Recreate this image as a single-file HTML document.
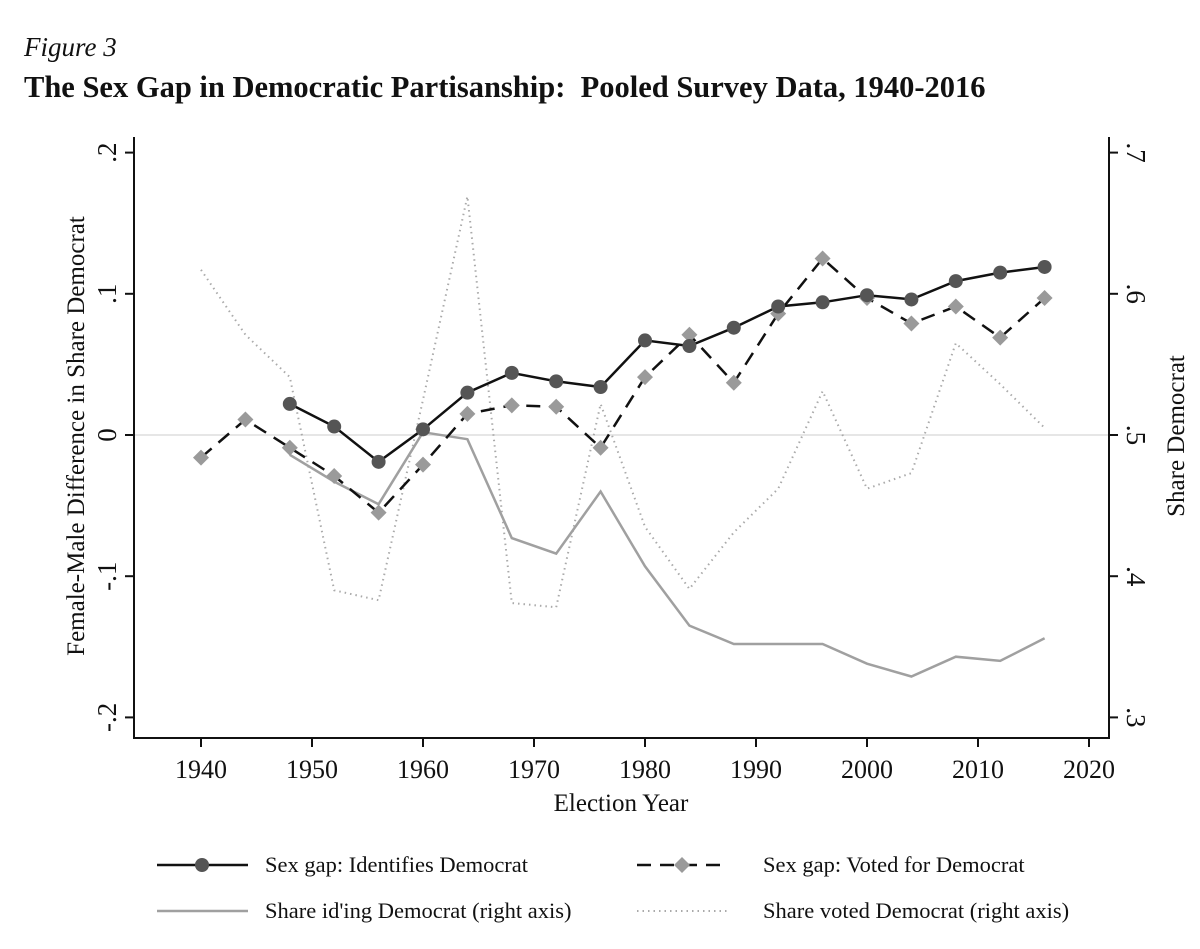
<!DOCTYPE html>
<html><head><meta charset="utf-8"><style>
body{margin:0;background:#fff;}
svg text{font-family:"Liberation Serif",serif;fill:#111;}
</style></head><body>
<svg width="1200" height="944" viewBox="0 0 1200 944" xmlns="http://www.w3.org/2000/svg">
<text x="24" y="56" font-size="27" font-style="italic">Figure 3</text>
<text x="24" y="97" font-size="30.5" font-weight="bold" xml:space="preserve" style="white-space:pre">The Sex Gap in Democratic Partisanship:  Pooled Survey Data, 1940-2016</text>
<g id="axes"></g>
<g id="series"></g>
<g id="legend"></g>
</svg>
<script>
const years=[1940,1944,1948,1952,1956,1960,1964,1968,1972,1976,1980,1984,1988,1992,1996,2000,2004,2008,2012,2016];
const idYears=years.slice(2);
const idGap=[.022,.006,-.019,.004,.030,.044,.038,.034,.067,.063,.076,.091,.094,.099,.096,.109,.115,.119];
const voteGap=[-.016,.011,-.009,-.029,-.055,-.021,.015,.021,.020,-.009,.041,.071,.037,.086,.125,.097,.079,.091,.069,.097];
const shareId=[.486,.467,.451,.502,.497,.427,.416,.460,.407,.365,.352,.352,.352,.338,.329,.343,.340,.356];
const shareVote=[.617,.571,.541,.390,.383,.525,.669,.381,.378,.522,.435,.391,.431,.462,.531,.462,.473,.565,.536,.505];
const xTicks=[1940,1950,1960,1970,1980,1990,2000,2010,2020];
const yLeftTicks=[-.2,-.1,0,.1,.2];
const yLeftLabels=["-.2","-.1","0",".1",".2"];
const yRightTicks=[.3,.4,.5,.6,.7];
const yRightLabels=[".3",".4",".5",".6",".7"];
const NS="http://www.w3.org/2000/svg";
const X=y=>201+(y-1940)*11.1;
const YL=v=>435-v*1412;
const YR=v=>435-(v-.5)*1412;
function mk(tag,attrs,parent){const e=document.createElementNS(NS,tag);for(const k in attrs)e.setAttribute(k,attrs[k]);parent.appendChild(e);return e;}
const axes=document.getElementById('axes'),ser=document.getElementById('series'),leg=document.getElementById('legend');
let e;
e=mk('line',{x1:134,y1:YL(0),x2:1109,y2:YL(0),stroke:'#e6e6e6','stroke-width':2},axes);


e=mk('path',{d:'M134 137 V738 H1109 V137',fill:'none',stroke:'#111','stroke-width':2},axes);


xTicks.forEach(t=>{
 e=mk('line',{x1:X(t),y1:738,x2:X(t),y2:747,stroke:'#111','stroke-width':2},axes);
 
 
 e=mk('text',{x:X(t),y:778,'font-size':26,'text-anchor':'middle'},axes);e.textContent=t;
 
 
});
yLeftTicks.forEach((t,i)=>{
 e=mk('line',{x1:125,y1:YL(t),x2:134,y2:YL(t),stroke:'#111','stroke-width':2},axes);
 
 
 e=mk('text',{x:0,y:0,'font-size':27,'text-anchor':'middle',transform:`translate(116,${YL(t)}) rotate(-90)`},axes);e.textContent=yLeftLabels[i];
 
 
});
yRightTicks.forEach((t,i)=>{
 e=mk('line',{x1:1109,y1:YR(t),x2:1118,y2:YR(t),stroke:'#111','stroke-width':2},axes);
 
 
 e=mk('text',{x:0,y:0,'font-size':27,'text-anchor':'middle',transform:`translate(1127,${YR(t)}) rotate(90)`},axes);e.textContent=yRightLabels[i];
 
 
});
e=mk('text',{x:0,y:0,'font-size':25,'text-anchor':'middle',transform:'translate(84,436) rotate(-90)'},axes);e.textContent='Female-Male Difference in Share Democrat';


e=mk('text',{x:0,y:0,'font-size':25,'text-anchor':'middle',transform:'translate(1184,436) rotate(-90)'},axes);e.textContent='Share Democrat';


e=mk('text',{x:621,y:811,'font-size':25,'text-anchor':'middle'},axes);e.textContent='Election Year';


const pts=(xs,vs,f)=>xs.map((y,i)=>X(y).toFixed(1)+','+f(vs[i]).toFixed(1)).join(' ');
e=mk('polyline',{points:pts(years,shareVote,YR),fill:'none',stroke:'#aaa','stroke-width':2,'stroke-dasharray':'1.5 4'},ser);


e=mk('polyline',{points:pts(idYears,shareId,YR),fill:'none',stroke:'#a0a0a0','stroke-width':2.5},ser);


e=mk('polyline',{points:pts(years,voteGap,YL),fill:'none',stroke:'#111','stroke-width':2.5,'stroke-dasharray':'14 9'},ser);


e=mk('polyline',{points:pts(idYears,idGap,YL),fill:'none',stroke:'#111','stroke-width':2.5},ser);


years.forEach((y,i)=>{const cx=X(y),cy=YL(voteGap[i]);
 e=mk('path',{d:`M${cx} ${cy-8}L${cx+8} ${cy}L${cx} ${cy+8}L${cx-8} ${cy}Z`,fill:'#9a9a9a'},ser);
 
 });
idYears.forEach((y,i)=>{
 e=mk('circle',{cx:X(y),cy:YL(idGap[i]),r:7,fill:'#555'},ser);
 
 });
function legItem(x,y,tx,label,style,marker,name){
 e=mk('line',Object.assign({x1:x,y1:y,x2:x+91,y2:y,'stroke-width':2.5},style),leg);
 
 
 if(marker==='c'){e=mk('circle',{cx:x+45,cy:y,r:7,fill:'#555'},leg);}
 if(marker==='d'){const c=x+45;e=mk('path',{d:`M${c} ${y-8}L${c+8} ${y}L${c} ${y+8}L${c-8} ${y}Z`,fill:'#9a9a9a'},leg);}
 e=mk('text',{x:tx,y:y+7,'font-size':22.5},leg);e.textContent=label;
 
 
}
legItem(157,865,265,'Sex gap: Identifies Democrat',{stroke:'#111'},'c','legend-id-gap');
legItem(637,865,763,'Sex gap: Voted for Democrat',{stroke:'#111','stroke-dasharray':'14 9'},'d','legend-vote-gap');
legItem(157,911,265,"Share id'ing Democrat (right axis)",{stroke:'#a0a0a0'},'','legend-share-id');
legItem(637,911,763,'Share voted Democrat (right axis)',{stroke:'#aaa','stroke-width':2,'stroke-dasharray':'1.5 4'},'','legend-share-voted');
</script>
</body></html>
